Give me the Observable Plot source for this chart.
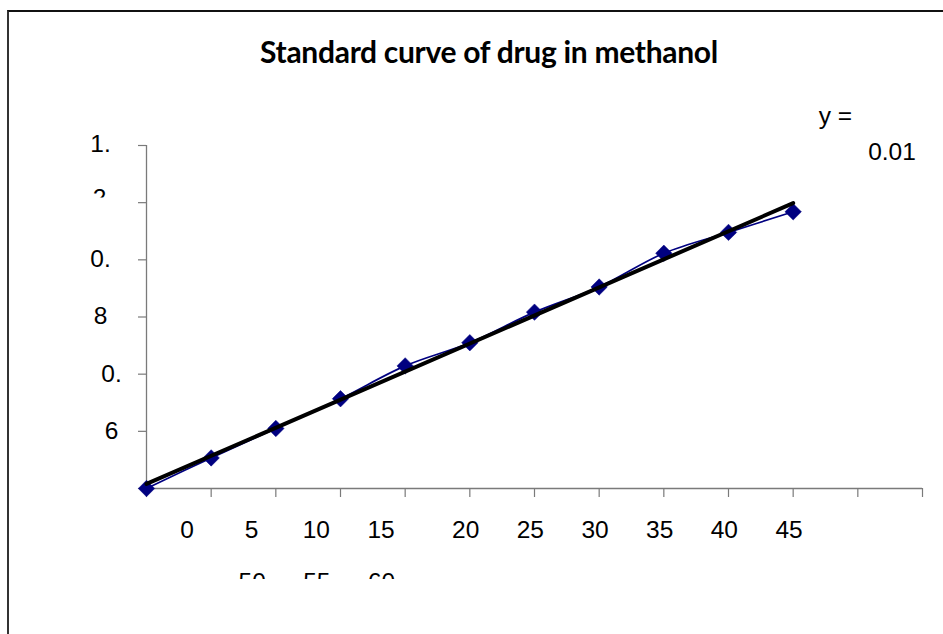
<!DOCTYPE html>
<html>
<head>
<meta charset="utf-8">
<script src="https://cdn.jsdelivr.net/npm/d3@7"></script>
<script src="https://cdn.jsdelivr.net/npm/@observablehq/plot@0.6"></script>
<style>
  html, body { margin: 0; padding: 0; background: #fff; overflow: hidden; width: 943px; height: 634px; }
  #frame { position: absolute; left: 7px; top: 10px; width: 1200px; height: 900px; box-sizing: border-box;
           border-top: 2px solid #111; border-left: 2px solid #333; pointer-events: none; }
  #chart { position: absolute; left: 0; top: 0; width: 943px; }
  #title { height: 100px; box-sizing: border-box; padding-top: 33px; padding-left: 35px; text-align: center;
           font: bold 30px Lato, "Open Sans", sans-serif; line-height: 36px; color: #000; letter-spacing: -0.3px; }
</style>
</head>
<body>
<div id="frame"></div>
<div id="chart"><div id="title"></div></div>
<script>
// ---- data ----
const chartTitle = "Standard curve of drug in methanol";
const concentration = [0, 5, 10, 15, 20, 25, 30, 35, 40, 45, 50];
const absorbance = [0, 0.107, 0.210, 0.314, 0.429, 0.510, 0.617, 0.705, 0.823, 0.896, 0.968];

const xTicks = [0, 5, 10, 15, 20, 25, 30, 35, 40, 45, 50, 55, 60];
const xLabelsRowA = [0, 5, 10, 15];
const xLabelsRowB = [20, 25, 30, 35, 40, 45];
const xLabelsRow2 = [50, 55, 60];

const yTicks = [0, 0.2, 0.4, 0.6, 0.8, 1.0, 1.2];
const yLabelValues = [1.2, 1.0, 0.8, 0.6, 0.4, 0.2];
const yLabelText = ["1.", "2", "0.", "8", "0.", "6"];

const equationLines = ["y =", "0.01"];

// ---- build ----
document.getElementById("title").textContent = chartTitle;
const data = concentration.map((c, i) => ({c, a: absorbance[i]}));
const yFmt = v => yLabelText[yLabelValues.indexOf(v)];
const axisGray = "#7a7a7a";
const FS = 24.5;
const labelOpts = {tickSize: 0, tickPadding: 0, textAnchor: "middle", lineAnchor: "middle", fontSize: FS};

const chart = Plot.plot({
  width: 943,
  height: 479,
  marginLeft: 146,
  marginRight: 21,
  marginTop: 45,
  marginBottom: 91,
  style: {background: "transparent", fontFamily: '"Liberation Sans", Arial, sans-serif', fontSize: "24px", color: "#000"},
  x: {domain: [0, 60], label: null},
  y: {domain: [0, 1.2], label: null},
  marks: [
    Plot.ruleY([0], {stroke: axisGray, strokeWidth: 1.3}),
    Plot.ruleX([0], {stroke: axisGray, strokeWidth: 1.3}),
    Plot.axisY(yTicks, {tickSize: 8, stroke: axisGray, strokeWidth: 1.2, tickFormat: () => ""}),
    Plot.axisX(xTicks, {tickSize: 9, stroke: axisGray, strokeWidth: 1.2, tickFormat: () => ""}),
    Plot.axisY([1.2, 0.8, 0.6], {...labelOpts, dx: -46, dy: -1, tickFormat: yFmt}),
    Plot.axisY([1.0], {...labelOpts, dx: -47, dy: -4.5, tickFormat: yFmt}),
    Plot.axisY([0.4, 0.2], {...labelOpts, dx: -35, dy: 0, tickFormat: yFmt}),
    Plot.axisX(xLabelsRowA, {...labelOpts, dx: 40.5, dy: 41.3, tickFormat: d => String(d)}),
    Plot.axisX(xLabelsRowB, {...labelOpts, dx: 60.5, dy: 41.3, tickFormat: d => String(d)}),
    Plot.axisX(xLabelsRow2, {...labelOpts, dx: -541, dy: 93.5, tickFormat: d => String(d)}),
    Plot.line(data, {x: "c", y: "a", stroke: "#000080", strokeWidth: 1.7, curve: "catmull-rom"}),
    Plot.dot(data, {x: "c", y: "a", symbol: "diamond2", r: 7.4, fill: "#000080", stroke: "#000080", strokeWidth: 0.5}),
    Plot.linearRegressionY(data, {x: "c", y: "a", stroke: "#000", strokeWidth: 4, ci: 0}),
    Plot.text([equationLines[0]], {text: d => d, fontSize: FS, frameAnchor: "top-right", textAnchor: "middle", lineAnchor: "middle", dx: -87, dy: -29}),
    Plot.text([equationLines[1]], {text: d => d, fontSize: FS, frameAnchor: "top-right", textAnchor: "middle", lineAnchor: "middle", dx: -30.5, dy: 7})
  ]
});
document.getElementById("chart").appendChild(chart);

// clip wrapped labels that overflow their boxes (only the top part is visible)
const svg = d3.select(chart);
const defs = svg.append("defs");
defs.append("clipPath").attr("id", "clipY2").attr("clipPathUnits", "objectBoundingBox")
  .append("rect").attr("x", -0.2).attr("y", 0).attr("width", 1.4).attr("height", 0.50);
defs.append("clipPath").attr("id", "clipRow2").attr("clipPathUnits", "objectBoundingBox")
  .append("rect").attr("x", -0.2).attr("y", 0).attr("width", 1.4).attr("height", 0.43);
svg.selectAll("text").filter(function() { return this.textContent === "2"; }).attr("clip-path", "url(#clipY2)");
svg.selectAll("text").filter(function() { return xLabelsRow2.map(String).includes(this.textContent); }).attr("clip-path", "url(#clipRow2)");
</script>
</body>
</html>
